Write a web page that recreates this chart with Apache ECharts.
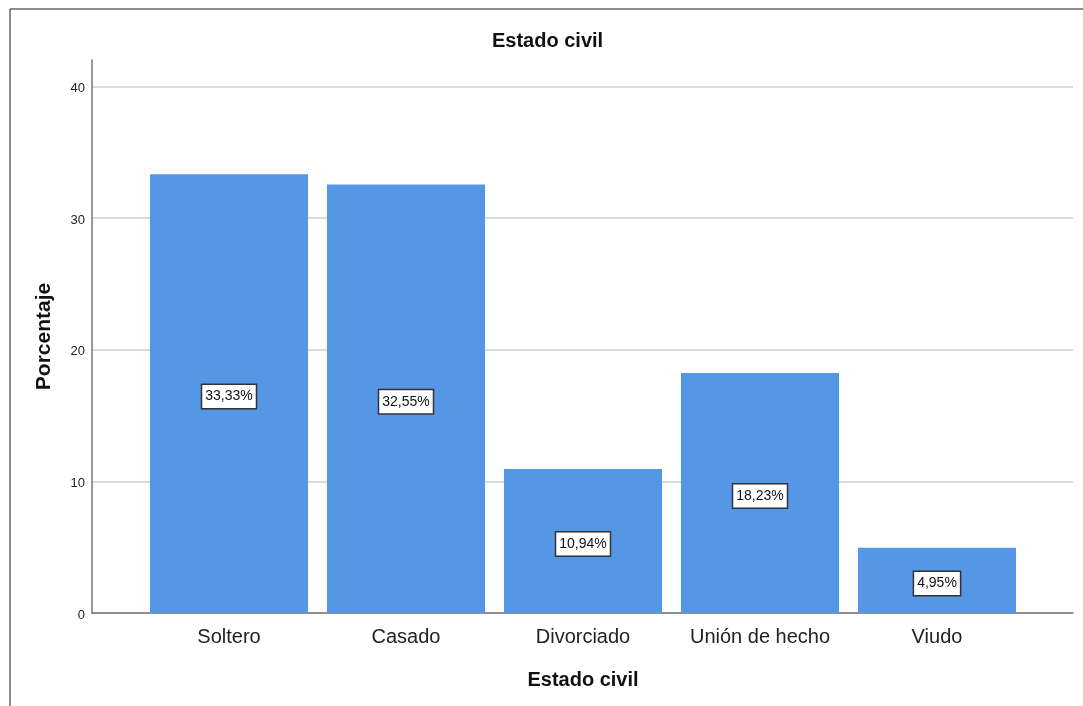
<!DOCTYPE html>
<html>
<head>
<meta charset="utf-8">
<style>
  html, body { margin: 0; padding: 0; background: #fff; }
  #chart { width: 1083px; height: 706px; }
</style>
<script src="https://cdn.jsdelivr.net/npm/echarts@6/dist/echarts.min.js"></script>
</head>
<body>
<div id="chart"></div>
<script>
const categories = ['Soltero', 'Casado', 'Divorciado', 'Unión de hecho', 'Viudo'];
const percentages = [33.33, 32.55, 10.94, 18.23, 4.95];
const yTicks = [0, 10, 20, 30, 40];

const FONT = "'Liberation Sans', Arial, sans-serif";
const chart = echarts.init(document.getElementById('chart'), null, { renderer: 'canvas' });

const option = {
  backgroundColor: '#ffffff',
  animation: false,
  title: {
    text: 'Estado civil',
    left: 492,
    top: 31,
    padding: 0,
    textStyle: { fontFamily: FONT, fontSize: 20, fontWeight: 'bold', color: '#111' }
  },
  graphic: [
    { type: 'line', shape: { x1: 10, y1: 9, x2: 1083, y2: 9 }, style: { stroke: '#666', lineWidth: 1.5 } },
    { type: 'line', shape: { x1: 10, y1: 9, x2: 10, y2: 706 }, style: { stroke: '#666', lineWidth: 1.5 } }
  ],
  grid: [
    { left: 92, right: 10, top: 60, bottom: 93 },
    { left: 140.5, right: 57.5, top: 60, bottom: 93 }
  ],
  xAxis: [
    {
      type: 'value', gridIndex: 0, min: 0, max: 1,
      axisLine: { show: true, lineStyle: { color: '#777', width: 1.5 } },
      axisTick: { show: false }, axisLabel: { show: false }, splitLine: { show: false }
    },
    {
      type: 'category', gridIndex: 1, data: categories,
      axisLine: { show: false }, axisTick: { show: false },
      axisLabel: { interval: 0, fontFamily: FONT, fontSize: 20, color: '#222', margin: 14 },
      name: 'Estado civil', nameLocation: 'middle', nameGap: 57,
      nameTextStyle: { fontFamily: FONT, fontSize: 20, fontWeight: 'bold', color: '#111' }
    }
  ],
  yAxis: [
    {
      type: 'value', gridIndex: 0, min: 0, max: 42, interval: 10,
      axisLine: { show: true, lineStyle: { color: '#777', width: 1.5 } },
      axisTick: { show: false },
      axisLabel: {
        fontFamily: FONT, fontSize: 13, color: '#222', margin: 7,
        formatter: v => (yTicks.indexOf(v) >= 0 ? '{t|' + v + '}' : ''),
        rich: { t: { fontFamily: FONT, fontSize: 13, color: '#222', padding: [4, 0, 0, 0] } }
      },
      splitLine: {
        show: true,
        lineStyle: { color: ['#cfcfcf', '#cfcfcf', '#cfcfcf', '#cfcfcf', '#cfcfcf', 'rgba(0,0,0,0)'], width: 1.5 }
      },
      name: 'Porcentaje', nameLocation: 'middle', nameGap: 37.5, nameRotate: 90,
      nameTextStyle: { fontFamily: FONT, fontSize: 21, fontWeight: 'bold', color: '#111' }
    },
    { type: 'value', gridIndex: 1, min: 0, max: 42, show: false, splitLine: { show: false } }
  ],
  series: [
    {
      type: 'bar', xAxisIndex: 1, yAxisIndex: 1,
      data: percentages,
      barCategoryGap: '10.7%',
      itemStyle: { color: '#5596e5' },
      label: {
        show: true, position: 'inside', offset: [0, 3],
        formatter: p => p.value.toFixed(2).replace('.', ',') + '%',
        fontFamily: FONT, fontSize: 14, color: '#111',
        backgroundColor: '#ffffff', borderColor: '#333', borderWidth: 1.5,
        padding: [5, 3, 4, 3]
      }
    }
  ]
};
chart.setOption(option);
</script>
</body>
</html>
